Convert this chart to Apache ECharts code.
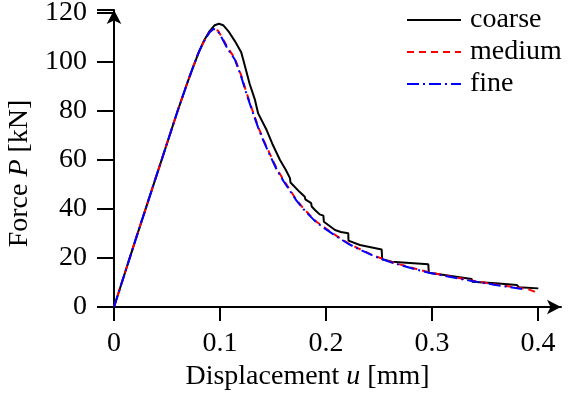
<!DOCTYPE html>
<html>
<head>
<meta charset="utf-8">
<script src="https://cdn.jsdelivr.net/npm/echarts@6/dist/echarts.min.js"></script>
<style>
  html, body { margin: 0; padding: 0; background: #fff; }
  #main { width: 569px; height: 398px; }
</style>
</head>
<body>
<div id="main"></div>
<script>
// 载荷-位移曲线，三种网格
var seriesNames = ['coarse', 'medium', 'fine'];
var xTicks = [0, 0.1, 0.2, 0.3, 0.4];
var yTicks = [0, 20, 40, 60, 80, 100, 120];

var coarseU = [0, 0.02, 0.04, 0.06, 0.07, 0.08, 0.085, 0.09, 0.095, 0.099, 0.103, 0.108, 0.114, 0.12, 0.122,
  0.128, 0.133, 0.136, 0.144, 0.15, 0.1566, 0.162, 0.166, 0.1665, 0.1676, 0.175, 0.18, 0.1805, 0.1818,
  0.186, 0.1865, 0.1896, 0.194, 0.1975, 0.198, 0.2085, 0.214, 0.221, 0.2212, 0.232, 0.2525, 0.253,
  0.262, 0.2965, 0.297, 0.3374, 0.338, 0.36, 0.38, 0.382, 0.4003];
var coarseP = [0, 27, 53.5, 80, 92.5, 104, 108.8, 112.5, 115, 115.6, 115, 112.5, 108.5, 104, 100.8,
  91, 84.5, 79, 72.2, 66, 60, 56, 52.6, 50.8, 50.4, 47, 45, 43.9, 43.6,
  42.4, 41, 39.6, 37.8, 37.3, 34.8, 31.4, 30.6, 30.1, 27.1, 25.3, 23.5, 19.5,
  18.5, 17.4, 14.0, 11.4, 10.3, 9.7, 9.0, 8.1, 7.6];

var mediumU = [0, 0.02, 0.04, 0.06, 0.07, 0.075, 0.08, 0.085, 0.09, 0.094, 0.098, 0.102, 0.107, 0.114,
  0.12, 0.125, 0.13, 0.136, 0.141, 0.147, 0.1535, 0.16, 0.166, 0.172, 0.1786, 0.185, 0.191, 0.2,
  0.21, 0.221, 0.23, 0.245, 0.26, 0.28, 0.298, 0.32, 0.339, 0.36, 0.383, 0.39, 0.395, 0.4];
var mediumP = [0, 27, 53.5, 80, 92.5, 98.5, 104, 108.5, 112, 113.6, 112.8, 110, 106, 101.5,
  94.5, 87.5, 81, 73.6, 68.2, 62.5, 56.5, 51.8, 47.8, 43.8, 40.3, 37.4, 34.8, 32.0,
  29.0, 26.0, 24.0, 21.0, 18.6, 16.1, 14.1, 12.2, 10.7, 9.2, 7.8, 7.3, 6.6, 5.5];

var fineU = [0, 0.02, 0.04, 0.06, 0.07, 0.075, 0.08, 0.085, 0.09, 0.094, 0.098, 0.102, 0.107, 0.114,
  0.12, 0.125, 0.13, 0.136, 0.141, 0.147, 0.1535, 0.16, 0.166, 0.172, 0.1786, 0.185, 0.191, 0.2,
  0.21, 0.221, 0.23, 0.245, 0.26, 0.28, 0.298, 0.32, 0.339, 0.36, 0.385];
var fineP = [0, 27, 53.5, 80, 92.5, 98.5, 104, 108.5, 112, 113.5, 112.6, 109.6, 105.5, 101,
  94, 87, 80.5, 73.2, 67.8, 62, 56, 51.3, 47.4, 43.5, 40, 37.1, 34.5, 31.7,
  28.8, 25.8, 23.8, 20.8, 18.4, 15.9, 13.9, 12.0, 10.5, 9.0, 7.3];

function pairs(u, p) {
  return u.map(function (v, i) { return [v, p[i]]; });
}

var font = 'Liberation Serif';
var fs = 28;
var richText = {
  a: { fontFamily: font, fontSize: fs, color: '#000' },
  i: { fontFamily: font, fontSize: fs, fontStyle: 'italic', color: '#000' }
};
var chart = echarts.init(document.getElementById('main'));

chart.setOption({
  animation: false,
  backgroundColor: '#fff',
  grid: { left: 114, right: 8, top: 10, bottom: 91, containLabel: false, outerBoundsMode: 'none' },
  legend: {
    orient: 'vertical',
    left: 401,
    top: 1,
    itemWidth: 54,
    itemHeight: 12,
    itemGap: 4,
    itemStyle: { opacity: 0 },
    textStyle: { fontFamily: font, fontSize: fs, color: '#000', padding: [0, 0, 0, 4] },
    data: seriesNames
  },
  xAxis: {
    type: 'value',
    min: 0,
    max: 0.4217,
    interval: 0.1,
    splitLine: { show: false },
    axisLine: {
      onZero: false,
      symbol: ['none', 'arrow'],
      symbolSize: [11, 14],
      lineStyle: { color: '#000', width: 2 }
    },
    axisTick: { length: 14, lineStyle: { color: '#000', width: 2 } },
    axisLabel: {
      margin: 23,
      fontFamily: font,
      fontSize: fs,
      color: '#000',
      formatter: function (v) { return xTicks.indexOf(Math.round(v * 10) / 10) >= 0 ? String(Math.round(v * 10) / 10) : ''; }
    },
    name: '{a|Displacement }{i|u}{a| [mm]}',
    nameLocation: 'middle',
    nameGap: 56,
    nameTextStyle: { rich: richText, padding: [0, 60, 0, 0] }
  },
  yAxis: {
    type: 'value',
    min: 0,
    max: 121.2,
    interval: 20,
    splitLine: { show: false },
    axisLine: {
      onZero: false,
      symbol: ['none', 'arrow'],
      symbolSize: [11, 14],
      lineStyle: { color: '#000', width: 2 }
    },
    axisTick: { length: 17, lineStyle: { color: '#000', width: 2 } },
    axisLabel: {
      margin: 27,
      fontFamily: font,
      fontSize: fs,
      color: '#000',
      formatter: function (v) { return yTicks.indexOf(v) >= 0 ? String(v) : ''; }
    },
    name: '{a|Force }{i|P}{a| [kN]}',
    nameLocation: 'middle',
    nameGap: 72,
    nameTextStyle: { rich: richText, padding: [0, 30, 0, 0] }
  },
  series: [
    {
      name: 'coarse',
      type: 'line',
      symbol: 'none',
      color: '#000',
      z: 2,
      lineStyle: { color: '#000', width: 2, type: 'solid' },
      data: pairs(coarseU, coarseP)
    },
    {
      name: 'medium',
      type: 'line',
      symbol: 'none',
      color: '#ff0000',
      z: 3,
      lineStyle: { color: '#ff0000', width: 2, type: [7, 5] },
      data: pairs(mediumU, mediumP)
    },
    {
      name: 'fine',
      type: 'line',
      symbol: 'none',
      color: '#0000ff',
      z: 4,
      lineStyle: { color: '#0000ff', width: 2, type: [12, 4, 2, 4] },
      data: pairs(fineU, fineP)
    }
  ]
});
</script>
</body>
</html>
